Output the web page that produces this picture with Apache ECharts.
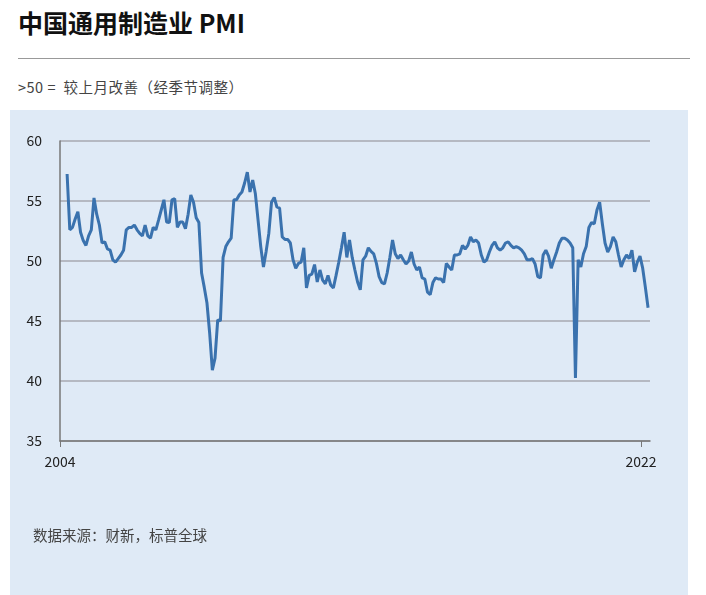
<!DOCTYPE html><html><head><meta charset="utf-8"><script src="https://cdn.jsdelivr.net/npm/echarts@6/dist/echarts.min.js"></script>
<style>body{margin:0;background:#fff;font-family:"Noto Sans CJK SC";}#t{position:absolute;left:18px;top:4px;font-size:25px;font-weight:bold;color:#111}#l{position:absolute;left:18px;top:58px;width:672px;border-top:1px solid #999}#s{position:absolute;left:18px;top:76px;font-size:14.5px;color:#444;letter-spacing:0.5px}#p{position:absolute;left:10px;top:110px;width:678px;height:485px;background:#dfeaf6}#c{position:absolute;left:0;top:0;width:706px;height:595px}</style></head><body>
<div id="t">中国通用制造业 PMI</div><div id="l"></div><div id="s">&gt;50 = &nbsp;较上月改善（经季节调整）</div><div id="p"></div><div id="c"></div>
<script>
const pmi2004_2007=[57.25,52.6,52.8,53.5,54.1,52.4,51.7,51.3,52.1,52.6,55.25,53.9,53.0,51.5,51.6,51.0,50.9,50.1,49.9,50.2,50.5,50.9,52.6,52.8,52.8,53.0,52.6,52.3,52.1,53.0,52.1,51.9,52.8,52.6,53.4,54.25,55.1];
const pmi2007_2011=[53.25,53.2,55.1,55.2,52.8,53.25,53.25,52.7,53.9,55.5,54.9,53.6,53.2,49.0,47.8,46.5,44.0,40.9,41.9,45.1,45.0,50.3,51.2,51.6,51.9,55.1,55.1,55.5,55.75,56.5,57.4,55.75,56.75,55.6,53.4,51.2,49.5,50.8,52.3];
const pmi2011_2014=[54.9,55.3,54.5,54.4,52.0,51.8,51.8,51.5,50.1,49.4,49.8,49.9,51.1,47.75,48.8,48.9,49.7,48.25,49.25,48.4,48.1,48.8,48.0,47.75,48.8,49.9,51.1,52.4,50.3,51.75,50.3,49.25,48.25,47.6,50.1,50.4,51.1,50.8,50.6];
const pmi2014_2017=[49.8,48.7,48.2,48.1,49.0,50.3,51.75,50.6,50.2,50.5,50.1,49.75,50.0,50.75,49.75,49.25,49.5,48.6,48.5,47.4,47.2,48.2,48.6,48.5,48.5,48.2,49.8,49.5,49.25,50.5,50.5,50.6,51.3,51.0,51.3,52.0,51.6,51.75,51.5];
const pmi2017_2022=[50.5,49.9,50.1,50.75,51.3,51.6,51.1,50.9,51.1,51.5,51.6,51.3,51.1,51.2,51.1,50.9,50.6,50.1,50.1,50.2,49.75,48.7,48.6,50.5,50.9,50.4,49.4,50.1,50.75,51.5,51.9,51.9,51.75,51.5,51.1,40.25,50.1,49.5,50.6,51.2,52.8,53.2,53.1,54.25,54.9,53.1,51.5,50.75,51.2,52.0,51.6,50.5,49.5,50.1,50.5,50.2,50.9,49.1,49.9,50.4,49.4,47.8,46.1];
const pmi=[].concat(pmi2004_2007,pmi2007_2011,pmi2011_2014,pmi2014_2017,pmi2017_2022);
const endYear=2022.22;
const xTicks=[2004,2022];
const yTicks=[35,40,45,50,55,60];
const data=pmi.map((v,i)=>[endYear-(pmi.length-1-i)/12,v]);
const ch=echarts.init(document.getElementById('c'));
ch.setOption({animation:false,grid:{left:60,right:56,top:141,bottom:154},
xAxis:{type:'value',min:xTicks[0],max:2022.28,interval:xTicks[1]-xTicks[0],axisLine:{lineStyle:{color:'#777',width:1.5}},axisTick:{show:true,length:6,lineStyle:{color:'#777'}},splitLine:{show:false},axisLabel:{color:'#222',fontSize:14,margin:14,fontFamily:'Noto Sans CJK SC',showMaxLabel:false,formatter:v=>String(v)}},
yAxis:{type:'value',min:yTicks[0],max:yTicks[yTicks.length-1],interval:5,axisLine:{show:true,lineStyle:{color:'#777',width:1.5}},axisTick:{show:false},splitLine:{lineStyle:{color:'#b5b9c2',width:2}},axisLabel:{color:'#222',fontSize:14,margin:18,fontFamily:'Noto Sans CJK SC'}},
series:[{type:'line',data:data,symbol:'none',lineStyle:{color:'#3a72ae',width:3}}],
graphic:[{type:'text',left:33,top:528,style:{text:'数据来源：财新，标普全球',fill:'#444',font:'14.5px "Noto Sans CJK SC"'}}]});
</script></body></html>
